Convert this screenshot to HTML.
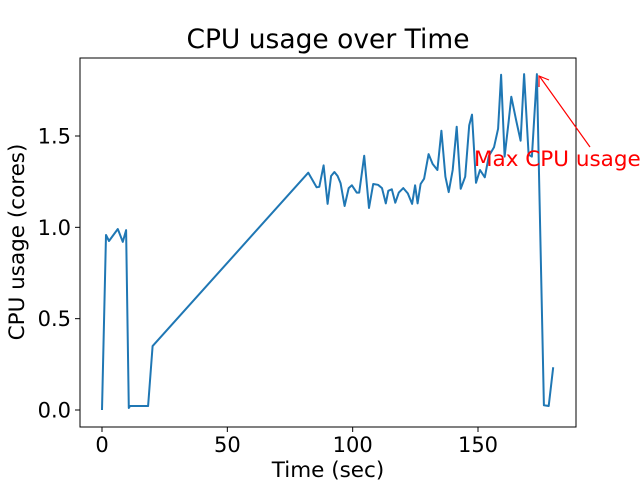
<!DOCTYPE html>
<html><head><meta charset="utf-8"><style>body{margin:0;background:#fff}svg{display:block;font-family:"DejaVu Sans","Liberation Sans",sans-serif}</style></head>
<body>
<svg id="chart" width="640" height="480"></svg>
<script>
const times=[0,1.6,2.8,6.3,8.3,9.6,10.7,11.2,18.4,20.2,82.3,85.6,86.7,88.4,90.0,91.4,92.7,94.0,95.2,96.8,98.4,99.7,101.6,102.6,104.6,106.5,108.2,110.1,111.7,113.2,114.2,115.6,117.0,118.4,120.2,122.0,123.7,124.9,125.9,127.1,128.5,130.3,131.9,133.8,135.4,137.0,138.3,139.9,141.5,143.1,144.9,146.5,147.6,149.2,150.8,152.7,154.3,156.4,158.0,159.2,160.6,162.2,163.3,165.2,167.0,168.4,170.2,171.5,173.5,176.3,178.2,180.0];
const cpu=[0,0.958,0.925,0.991,0.920,0.985,0.011,0.022,0.022,0.350,1.299,1.219,1.222,1.339,1.128,1.281,1.303,1.281,1.241,1.117,1.215,1.230,1.190,1.190,1.392,1.106,1.237,1.233,1.215,1.131,1.200,1.208,1.135,1.190,1.215,1.186,1.128,1.230,1.131,1.237,1.266,1.401,1.347,1.314,1.529,1.277,1.193,1.314,1.551,1.211,1.277,1.558,1.617,1.244,1.314,1.274,1.390,1.438,1.540,1.835,1.387,1.577,1.715,1.587,1.474,1.839,1.398,1.387,1.839,0.026,0.022,0.234];
const xTicks=[0,50,100,150];
const yTicks=[0.0,0.5,1.0,1.5];
const yTickLabels=["0.0","0.5","1.0","1.5"];
const NS="http://www.w3.org/2000/svg";
const svg=document.getElementById('chart');
const L=80,R=576,T=58,B=427;
const sx=v=>102+v*2.5067;
const sy=v=>410-v*182.67;
function mk(tag,attrs,parent){const e=document.createElementNS(NS,tag);for(const k in attrs)e.setAttribute(k,attrs[k]);(parent||svg).appendChild(e);return e;}
let t=mk('text',{x:328,y:48,'font-size':26.5,'text-anchor':'middle',fill:'#000'});t.textContent='CPU usage over Time';


let pts=times.map((x,i)=>sx(x).toFixed(1)+','+sy(cpu[i]).toFixed(1)).join(' ');
let line=mk('polyline',{points:pts,fill:'none',stroke:'#1f77b4','stroke-width':2,'stroke-linejoin':'round'});


let fr=mk('rect',{x:L,y:T,width:R-L,height:B-T,fill:'none',stroke:'#000','stroke-width':1});


xTicks.forEach(v=>{const g=mk('g',{});


mk('line',{x1:sx(v),x2:sx(v),y1:B,y2:B+5,stroke:'#000'},g);
const tx=mk('text',{x:sx(v),y:B+25,'font-size':21,'text-anchor':'middle'},g);tx.textContent=v;});
yTicks.forEach((v,i)=>{const g=mk('g',{});


mk('line',{x1:L-5,x2:L,y1:sy(v),y2:sy(v),stroke:'#000'},g);
const tx=mk('text',{x:L-9,y:sy(v)+7.5,'font-size':21,'text-anchor':'end'},g);tx.textContent=yTickLabels[i];});
let xl=mk('text',{x:328,y:477,'font-size':21.5,'text-anchor':'middle'});xl.textContent='Time (sec)';


let yl=mk('text',{x:24,y:242,'font-size':21.5,'text-anchor':'middle',transform:'rotate(-90 24 242)'});yl.textContent='CPU usage (cores)';


let ag=mk('g',{});


mk('line',{x1:590,y1:147,x2:540,y2:77,stroke:'red','stroke-width':1.2},ag);
mk('polyline',{points:'539,87 539,76 549,80',fill:'none',stroke:'red','stroke-width':1.2},ag);
let at=mk('text',{x:474,y:166,'font-size':21.5,fill:'red'},ag);at.textContent='Max CPU usage';
</script>
</body></html>
